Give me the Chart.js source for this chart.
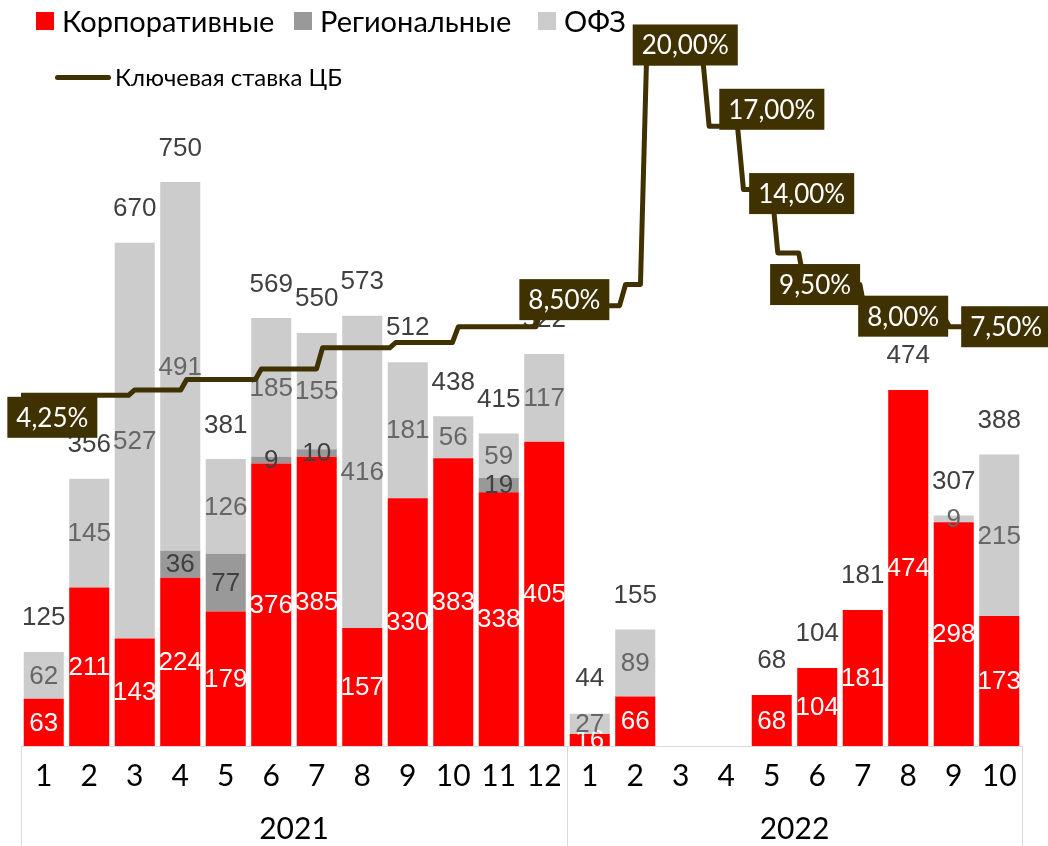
<!DOCTYPE html>
<html>
<head>
<meta charset="utf-8">
<script src="https://cdn.jsdelivr.net/npm/chart.js@4.4.0/dist/chart.umd.min.js"></script>
<style>
  html, body { margin: 0; padding: 0; background: #fff; }
  #wrap { position: relative; width: 1048px; height: 846px; }
  #c { position: absolute; left: 0; top: 0; }
  .lg { position: absolute; font-family: Lato, "Open Sans", sans-serif; color: #000; white-space: nowrap; }
  .sq { position: absolute; width: 18px; height: 18px; }
  .ln { position: absolute; width: 56px; height: 5px; border-radius: 3px; }
</style>
</head>
<body>
<div id="wrap">
  <canvas id="c" width="1048" height="846"></canvas>
  <div id="legend"></div>
</div>
<script>
// месяцы и годы
const months = ['1','2','3','4','5','6','7','8','9','10','11','12','1','2','3','4','5','6','7','8','9','10'];
const years = ['2021', '2022'];
const yearSpans = [12, 10];

// объёмы размещений, млрд руб.
const corporate = [63, 211, 143, 224, 179, 376, 385, 157, 330, 383, 338, 405, 16, 66, 0, 0, 68, 104, 181, 474, 298, 173];
const regional  = [0, 0, 0, 36, 77, 9, 10, 0, 0, 0, 19, 0, 0, 0, 0, 0, 0, 0, 0, 0, 0, 0];
const ofz       = [62, 145, 527, 491, 126, 185, 155, 416, 181, 56, 59, 117, 27, 89, 0, 0, 0, 0, 0, 0, 9, 215];
const totals    = [125, 356, 670, 750, 381, 569, 550, 573, 512, 438, 415, 522, 44, 155, 0, 0, 68, 104, 181, 474, 307, 388];

// ключевая ставка ЦБ
const rateDates = ['2021-01-04', '2021-03-22', '2021-04-26', '2021-06-15', '2021-07-26', '2021-09-13', '2021-10-25', '2021-12-20',
                   '2022-02-14', '2022-02-28', '2022-04-11', '2022-05-04', '2022-05-27', '2022-06-14', '2022-07-25', '2022-09-19'];
const rateValues = [4.25, 4.5, 5, 5.5, 6.5, 6.75, 7.5, 8.5, 9.5, 20, 17, 14, 11, 9.5, 8, 7.5];
const rateEnd = '2022-11-08';

const RED = '#ff0000', DARK = '#999999', LIGHT = '#cccccc', LINE = '#403100';

function dayOf(s) {
  return (Date.parse(s) - Date.parse('2021-01-01')) / 86400000;
}

const ratePoints = [{ x: dayOf(rateDates[0]), y: rateValues[0] }];
for (let i = 1; i < rateDates.length; i++) {
  const d = dayOf(rateDates[i]);
  ratePoints.push({ x: d - 3, y: rateValues[i - 1] });
  ratePoints.push({ x: d + 1, y: rateValues[i] });
}
ratePoints.push({ x: dayOf(rateEnd), y: rateValues[rateValues.length - 1] });

// which rate level gets a box, where its centre sits and how far it is nudged
const rateBoxes = [
  { i: 0, at: '2021-01-27', dy: 22 },
  { i: 7, at: '2022-01-05', dy: -6 },
  { i: 9, at: '2022-03-27', dy: -18 },
  { i: 10, at: '2022-05-24', dy: -17 },
  { i: 11, at: '2022-06-13', dy: 4 },
  { i: 13, at: '2022-06-22', dy: 0 },
  { i: 14, at: '2022-08-20', dy: 0 },
  { i: 15, at: '2022-10-28', dy: 0 }
];

const labelColors = ['#ffffff', '#404040', '#666666'];

const barLabels = {
  id: 'barLabels',
  beforeDatasetDraw(chart, args) {
    if (args.meta.type !== 'line') return;
    const ctx = chart.ctx;
    const yScale = chart.scales.y;
    ctx.save();
    ctx.font = '26px "Liberation Sans", Arial, sans-serif';
    ctx.textAlign = 'center';
    ctx.textBaseline = 'middle';
    [0, 1, 2].forEach((di) => {
      const meta = chart.getDatasetMeta(di);
      ctx.fillStyle = labelColors[di];
      meta.data.forEach((bar, k) => {
        const v = chart.data.datasets[di].data[k];
        if (!v) return;
        ctx.fillText(String(v), bar.x, (bar.y + bar.base) / 2 + 1);
      });
    });
    ctx.fillStyle = '#404040';
    const meta0 = chart.getDatasetMeta(0);
    totals.forEach((t, k) => {
      if (!t) return;
      ctx.fillText(String(t), meta0.data[k].x, yScale.getPixelForValue(t) - 34);
    });
    ctx.restore();
  },
  afterDatasetsDraw(chart) {
    const ctx = chart.ctx;
    const x2 = chart.scales.x2, y2 = chart.scales.y2;
    ctx.save();
    ctx.font = '26px Lato, "Open Sans", sans-serif';
    ctx.textAlign = 'center';
    ctx.textBaseline = 'middle';
    rateBoxes.forEach((b) => {
      const v = rateValues[b.i];
      const text = v.toFixed(2).replace('.', ',') + '%';
      const cx = x2.getPixelForValue(dayOf(b.at));
      const cy = y2.getPixelForValue(v) + b.dy;
      const w = ctx.measureText(text).width + 18;
      const h = 41;
      ctx.fillStyle = LINE;
      ctx.fillRect(cx - w / 2, cy - h / 2, w, h);
      ctx.fillStyle = '#ffffff';
      ctx.fillText(text, cx, cy + 1);
    });
    ctx.restore();
  },
  afterDraw(chart) {
    const ctx = chart.ctx;
    const xs = chart.scales.x;
    const area = chart.chartArea;
    const bottom = chart.height;
    ctx.save();
    ctx.strokeStyle = '#d9d9d9';
    ctx.lineWidth = 1;
    ctx.beginPath();
    ctx.moveTo(area.left, area.bottom + 0.5);
    ctx.lineTo(area.right, area.bottom + 0.5);
    let start = 0;
    const edges = [area.left];
    yearSpans.forEach((n) => {
      start += n;
      if (start < months.length) {
        edges.push((xs.getPixelForValue(start - 1) + xs.getPixelForValue(start)) / 2);
      }
    });
    edges.push(area.right);
    edges.forEach((ex) => {
      const px = Math.round(ex) + 0.5;
      ctx.moveTo(px, area.bottom);
      ctx.lineTo(px, bottom);
    });
    ctx.stroke();

    ctx.font = '30px Lato, "Open Sans", sans-serif';
    ctx.fillStyle = '#000000';
    ctx.textAlign = 'center';
    ctx.textBaseline = 'middle';
    start = 0;
    years.forEach((yr, j) => {
      const first = start, last = start + yearSpans[j] - 1;
      const cx = (xs.getPixelForValue(first) + xs.getPixelForValue(last)) / 2;
      ctx.fillText(yr, cx, 829);
      start += yearSpans[j];
    });
    ctx.restore();
  }
};

const chart = new Chart(document.getElementById('c'), {
  data: {
    labels: months,
    datasets: [
      { type: 'bar', label: 'Корпоративные', data: corporate, backgroundColor: RED, stack: 's', order: 1 },
      { type: 'bar', label: 'Региональные', data: regional, backgroundColor: DARK, stack: 's', order: 1 },
      { type: 'bar', label: 'ОФЗ', data: ofz, backgroundColor: LIGHT, stack: 's', order: 1 },
      {
        type: 'line', label: 'Ключевая ставка ЦБ', data: ratePoints,
        xAxisID: 'x2', yAxisID: 'y2', borderColor: LINE, borderWidth: 5,
        pointRadius: 0, tension: 0, fill: false, borderJoinStyle: 'round', order: 0
      }
    ]
  },
  options: {
    responsive: false,
    animation: false,
    devicePixelRatio: 1,
    layout: { padding: { left: 21, right: 26, top: 25, bottom: 0 } },
    datasets: { bar: { categoryPercentage: 1, barPercentage: 0.88, grouped: false } },
    scales: {
      x: {
        type: 'category',
        stacked: true,
        grid: { display: false, drawTicks: false },
        border: { display: false },
        ticks: {
          color: '#000000',
          font: { family: 'Lato, "Open Sans", sans-serif', size: 30 },
          padding: 12,
          autoSkip: false,
          maxRotation: 0
        },
        afterFit(scale) { scale.height = 100; }
      },
      y: { stacked: true, display: false, min: 0, max: 960 },
      x2: { type: 'linear', display: false, min: 5, max: 675.6 },
      y2: { display: false, min: -12.37, max: 21.8 }
    },
    plugins: {
      legend: { display: false },
      tooltip: { enabled: false }
    }
  },
  plugins: [barLabels]
});

// легенда
const legend = document.getElementById('legend');
const swatchLeft = [36, 294, 538];
chart.data.datasets.slice(0, 3).forEach((ds, k) => {
  legend.insertAdjacentHTML('beforeend',
    '<div class="sq" style="left:' + swatchLeft[k] + 'px; top:12px; background:' + ds.backgroundColor + '"></div>' +
    '<div class="lg" style="left:' + (swatchLeft[k] + 26) + 'px; top:2px; font-size:29px; line-height:38px;">' + ds.label + '</div>');
});
const lineDs = chart.data.datasets[3];
legend.insertAdjacentHTML('beforeend',
  '<div class="ln" style="left:55px; top:75px; background:' + lineDs.borderColor + '"></div>' +
  '<div class="lg" style="left:115px; top:62px; font-size:24px; line-height:30px;">' + lineDs.label + '</div>');
</script>
</body>
</html>
